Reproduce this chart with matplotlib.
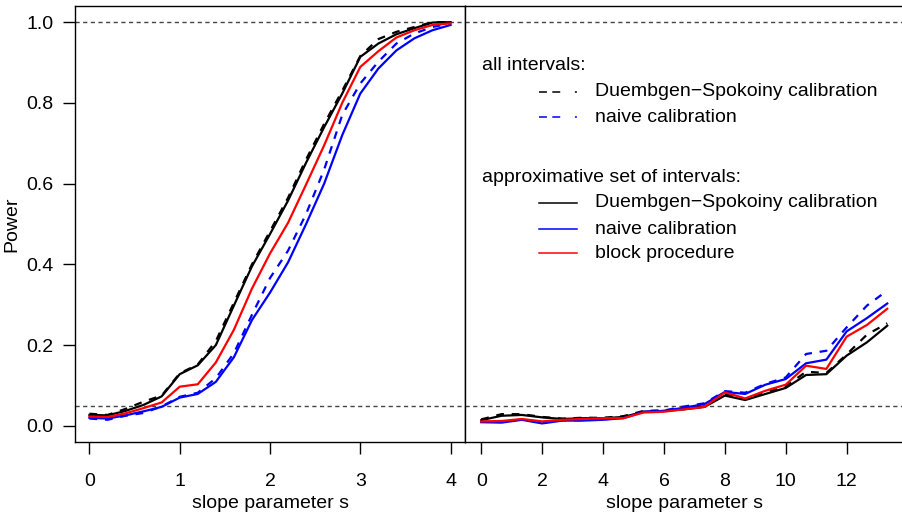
import matplotlib
matplotlib.use("Agg")
import matplotlib.pyplot as plt
from matplotlib.lines import Line2D

plt.rcParams['font.family'] = ['Liberation Sans', 'DejaVu Sans']
plt.rcParams['font.size'] = 14

# slope grid, left panel (0..4) and right panel (0..13.33)
s_left = [0.0, 0.2, 0.4, 0.6, 0.8, 1.0, 1.2, 1.4, 1.6, 1.8, 2.0,
          2.2, 2.4, 2.6, 2.8, 3.0, 3.2, 3.4, 3.6, 3.8, 4.0]
s_right = [0.0, 0.667, 1.333, 2.0, 2.667, 3.333, 4.0, 4.667, 5.333, 6.0, 6.667,
           7.333, 8.0, 8.667, 9.333, 10.0, 10.667, 11.333, 12.0, 12.667, 13.333]

# left panel power
ds_all_l = [0.030, 0.027, 0.042, 0.060, 0.075, 0.130, 0.152, 0.210, 0.305, 0.400, 0.482,
            0.565, 0.660, 0.748, 0.830, 0.916, 0.958, 0.976, 0.988, 1.000, 1.000]
naive_all_l = [0.018, 0.015, 0.025, 0.032, 0.048, 0.072, 0.082, 0.118, 0.180, 0.275, 0.366,
               0.434, 0.525, 0.635, 0.770, 0.848, 0.902, 0.947, 0.972, 0.988, 0.997]
ds_appr_l = [0.027, 0.026, 0.037, 0.052, 0.073, 0.128, 0.150, 0.200, 0.298, 0.395, 0.475,
             0.558, 0.652, 0.740, 0.823, 0.914, 0.947, 0.970, 0.985, 0.999, 1.000]
naive_appr_l = [0.020, 0.018, 0.026, 0.036, 0.047, 0.070, 0.079, 0.109, 0.170, 0.262, 0.330,
                0.405, 0.500, 0.600, 0.720, 0.823, 0.885, 0.930, 0.960, 0.980, 0.993]
block_l = [0.023, 0.022, 0.031, 0.044, 0.058, 0.097, 0.103, 0.157, 0.238, 0.340, 0.427,
           0.503, 0.598, 0.695, 0.800, 0.889, 0.928, 0.962, 0.980, 0.993, 0.997]

# right panel power
ds_all_r = [0.016, 0.029, 0.029, 0.022, 0.018, 0.020, 0.020, 0.024, 0.037, 0.038, 0.042,
            0.048, 0.078, 0.066, 0.082, 0.098, 0.134, 0.131, 0.177, 0.226, 0.254]
naive_all_r = [0.010, 0.010, 0.016, 0.008, 0.014, 0.014, 0.016, 0.020, 0.036, 0.038, 0.048,
               0.056, 0.086, 0.082, 0.104, 0.120, 0.178, 0.186, 0.244, 0.298, 0.335]
ds_appr_r = [0.014, 0.025, 0.027, 0.021, 0.017, 0.019, 0.019, 0.022, 0.035, 0.037, 0.041,
             0.047, 0.075, 0.064, 0.079, 0.094, 0.126, 0.128, 0.174, 0.207, 0.248]
naive_appr_r = [0.009, 0.008, 0.015, 0.006, 0.013, 0.013, 0.015, 0.019, 0.035, 0.037, 0.045,
                0.054, 0.084, 0.079, 0.102, 0.116, 0.155, 0.164, 0.234, 0.267, 0.303]
block_r = [0.011, 0.012, 0.017, 0.011, 0.015, 0.017, 0.019, 0.019, 0.033, 0.035, 0.041,
           0.047, 0.083, 0.068, 0.087, 0.102, 0.149, 0.141, 0.221, 0.250, 0.290]

ref_levels = [0.05, 1.0]
W, H = 903, 514
DASH = (0, (3.5, 3.5))
LW = 1.6

fig = plt.figure(figsize=(W / 100, H / 100), dpi=100)
axl = fig.add_axes([75 / W, 72 / H, 390 / W, 436 / H])
axr = fig.add_axes([465 / W, 72 / H, 438.5 / W, 436 / H])


def draw(ax, s, ds_all, naive_all, ds_appr, naive_appr, block):
	for lev in ref_levels:
		ax.axhline(lev, color='#444444', lw=1, ls=(0, (3, 2.5)))
	ax.plot(s, ds_all, color='black', lw=LW, ls=DASH)
	ax.plot(s, naive_all, color='blue', lw=LW, ls=DASH)
	ax.plot(s, ds_appr, color='black', lw=LW)
	ax.plot(s, naive_appr, color='blue', lw=LW)
	ax.plot(s, block, color='red', lw=LW)
	ax.set_ylim(-0.04, 1.04)
	ax.tick_params(direction='out', length=8.6, width=1)
	ax.tick_params(axis='x', pad=14)
	for sp in ax.spines.values():
		sp.set_linewidth(1)
	ax.set_xlabel("slope parameter s", labelpad=3.5)


draw(axl, s_left, ds_all_l, naive_all_l, ds_appr_l, naive_appr_l, block_l)
draw(axr, s_right, ds_all_r, naive_all_r, ds_appr_r, naive_appr_r, block_r)

axl.set_xlim(-0.16, 4.16)
axl.set_xticks([0, 1, 2, 3, 4])
axl.set_yticks([0.0, 0.2, 0.4, 0.6, 0.8, 1.0])
axl.set_yticklabels(["0.0", "0.2", "0.4", "0.6", "0.8", "1.0"])
axl.tick_params(axis='y', pad=7)
axl.set_ylabel("Power", labelpad=4)

axr.set_xlim(-0.5333, 13.8667)
axr.set_xticks([0, 2, 4, 6, 8, 10, 12])
axr.set_yticks([])
axr.spines['right'].set_visible(False)

# hand-made legend in the right panel (pixel positions)
def px(x, y):
	return x / W, 1 - y / H

fig.text(*px(482, 65), "all intervals:", va='center', ha='left')
fig.text(*px(482, 177), "approximative set of intervals:", va='center', ha='left')

leg_dash = (0, (5.2, 3.5, 5.2, 9.6, 1.3, 30))
entries = [
	(92, 'black', leg_dash),
	(117, 'blue', leg_dash),
	(203, 'black', '-'),
	(229, 'blue', '-'),
	(253, 'red', '-'),
]
labels = ["Duembgen\u2212Spokoiny calibration", "naive calibration",
          "Duembgen\u2212Spokoiny calibration", "naive calibration", "block procedure"]
for (y, c, ls), lab in zip(entries, labels):
	x0, y0 = px(539, y)
	x1, _ = px(577, y)
	fig.add_artist(Line2D([x0, x1], [y0, y0], transform=fig.transFigure,
	                      color=c, lw=1.1, ls=ls))
	fig.text(*px(595, y), lab, va='center', ha='left')

fig.savefig("out.png", dpi=100)
